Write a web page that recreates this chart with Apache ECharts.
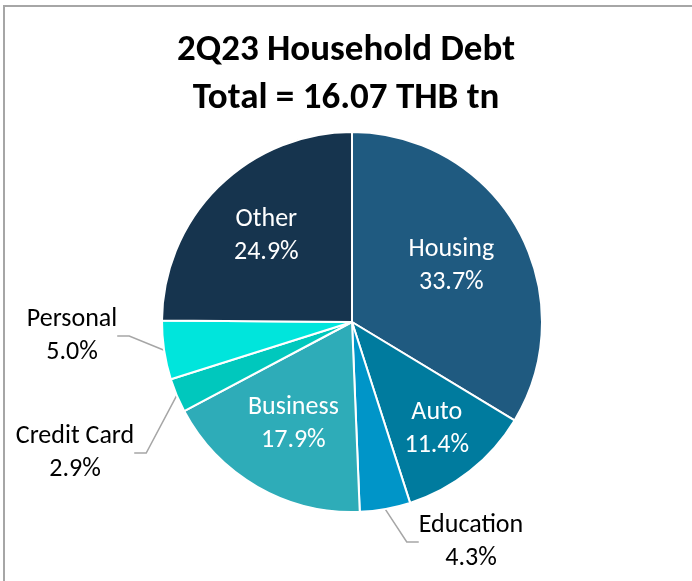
<!DOCTYPE html>
<html>
<head>
<meta charset="utf-8">
<script src="https://cdn.jsdelivr.net/npm/echarts@6/dist/echarts.min.js"></script>
<style>
  html, body { margin: 0; padding: 0; background: #ffffff; }
  #chart { width: 692px; height: 581px; }
</style>
</head>
<body>
<div id="chart"></div>
<script>
// ---- data ----
const categories = ['Housing', 'Auto', 'Education', 'Business', 'Credit Card', 'Personal', 'Other'];
const shares = [33.7, 11.4, 4.3, 17.9, 2.9, 5.0, 24.9];
const titleLines = ['2Q23 Household Debt', 'Total = 16.07 THB tn'];

// ---- styles ----
const colors = ['#1f5a80', '#007b9e', '#0095c8', '#2eacb8', '#00c8bd', '#00e5dc', '#16344e'];
const FONT = 'Carlito, Lato, sans-serif';
const CENTER = [352, 322];
const RADIUS = 190;
// inside labels: radial distance as fraction of radius
const insideFactor = { 'Housing': 0.60, 'Auto': 0.72, 'Business': 0.62, 'Other': 0.64 };
// outside labels: label centre positions (manual placement as in the reference)
const outsidePos = { 'Personal': [72, 336], 'Credit Card': [75, 453], 'Education': [471, 542] };

const data = categories.map((name, i) => {
  const inside = insideFactor[name] != null;
  return {
    name: name,
    value: shares[i],
    itemStyle: { color: colors[i] },
    label: inside
      ? { position: 'inside', color: '#ffffff' }
      : { position: 'outside', color: '#000000' },
    labelLine: { show: !inside }
  };
});

const chart = echarts.init(document.getElementById('chart'), null, { renderer: 'canvas' });

chart.setOption({
  backgroundColor: '#ffffff',
  animation: false,
  title: {
    text: titleLines.join('\n'),
    left: 'center',
    top: 22,
    textStyle: { fontFamily: FONT, fontWeight: 'bold', fontSize: 37, lineHeight: 48, color: '#000000' }
  },
  graphic: [{
    type: 'rect',
    shape: { x: 4, y: 6, width: 900, height: 800 },
    style: { fill: 'none', stroke: '#a6a6a6', lineWidth: 2 },
    silent: true
  }],
  series: [{
    type: 'pie',
    center: CENTER,
    radius: [0, RADIUS],
    startAngle: 90,
    clockwise: true,
    avoidLabelOverlap: false,
    itemStyle: { borderColor: '#ffffff', borderWidth: 2 },
    label: {
      show: true,
      formatter: p => p.name + '\n' + p.value.toFixed(1) + '%',
      fontFamily: FONT,
      fontSize: 26,
      lineHeight: 33,
      align: 'center'
    },
    labelLine: {
      show: true,
      length: 15,
      length2: 12,
      lineStyle: { color: '#a6a6a6', width: 1.5 }
    },
    labelLayout: function (params) {
      const name = categories[params.dataIndex];
      const r = params.labelRect;
      if (insideFactor[name] != null) {
        const cx = r.x + r.width / 2, cy = r.y + r.height / 2;
        const vx = cx - CENTER[0], vy = cy - CENTER[1];
        const len = Math.sqrt(vx * vx + vy * vy) || 1;
        const target = insideFactor[name] * RADIUS;
        return { dx: vx / len * (target - len), dy: vy / len * (target - len) };
      }
      const pos = outsidePos[name];
      return { x: pos[0], y: pos[1], align: 'center', verticalAlign: 'middle' };
    },
    data: data
  }]
});
</script>
</body>
</html>
